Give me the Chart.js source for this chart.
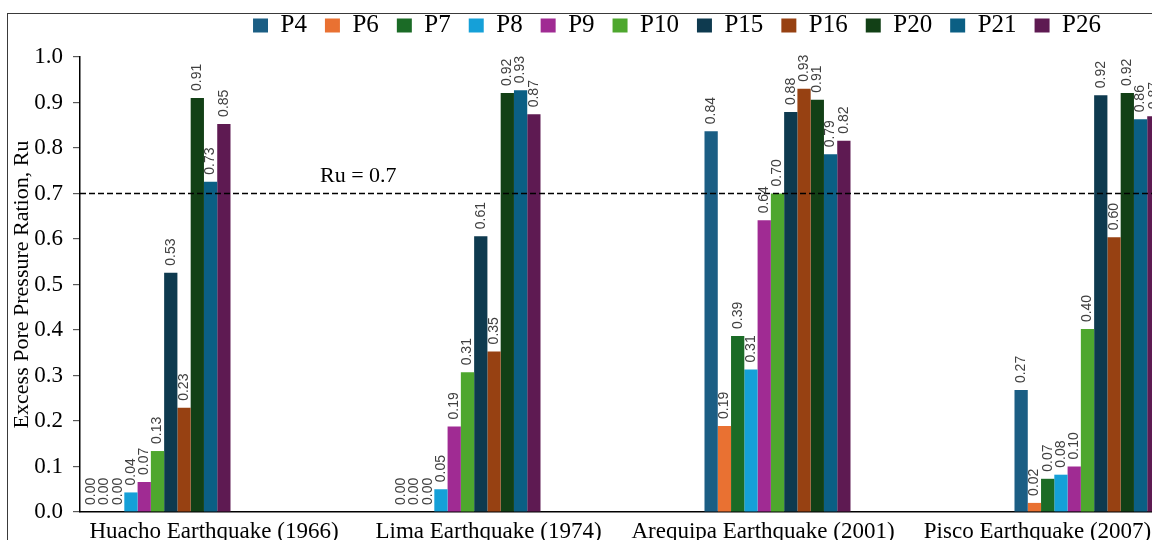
<!DOCTYPE html>
<html>
<head>
<meta charset="utf-8">
<script src="https://cdn.jsdelivr.net/npm/chart.js@4.4.1/dist/chart.umd.min.js"></script>
<style>
html,body{margin:0;padding:0;background:#fff;overflow:hidden;width:1152px;height:540px;}
#wrap{position:absolute;left:0;top:0;width:1354px;height:540px;}
#frame{position:absolute;left:7px;top:13px;width:1340px;height:600px;border:1.5px solid #3a3a3a;box-sizing:border-box;pointer-events:none;}
</style>
</head>
<body>
<div id="wrap"><canvas id="c" width="1354" height="540"></canvas></div>
<div id="frame"></div>
<script>
// ---- data ----
const categories = ['Huacho Earthquake (1966)', 'Lima Earthquake (1974)', 'Arequipa Earthquake (2001)', 'Pisco Earthquake (2007)'];
const seriesNames = ['P4', 'P6', 'P7', 'P8', 'P9', 'P10', 'P15', 'P16', 'P20', 'P21', 'P26'];
const P4  = [0.000, 0.000, 0.837, 0.268];
const P6  = [0.000, 0.000, 0.189, 0.020];
const P7  = [0.000, 0.000, 0.387, 0.073];
const P8  = [0.043, 0.050, 0.313, 0.082];
const P9  = [0.066, 0.188, 0.641, 0.100];
const P10 = [0.134, 0.307, 0.700, 0.402];
const P15 = [0.526, 0.606, 0.879, 0.916];
const P16 = [0.229, 0.353, 0.930, 0.604];
const P20 = [0.910, 0.921, 0.906, 0.921];
const P21 = [0.726, 0.927, 0.786, 0.863];
const P26 = [0.853, 0.874, 0.816, 0.870];
const yTicks = [0.0, 0.1, 0.2, 0.3, 0.4, 0.5, 0.6, 0.7, 0.8, 0.9, 1.0];
const threshold = 0.7;
const thresholdLabel = 'Ru = 0.7';
const yTitle = 'Excess Pore Pressure Ration, Ru';

// ---- styles ----
const colors = ['#1B5E84', '#E97132', '#1B6B26', '#15A0D8', '#A02B93', '#4EA72E', '#0E3A4F', '#974112', '#124016', '#0B5F84', '#5E1A52'];
const serif = 'Liberation Serif, Times New Roman, serif';

const seriesValues = [P4, P6, P7, P8, P9, P10, P15, P16, P20, P21, P26];
// each earthquake occupies the left half of a double-width slot
const expand = arr => arr.flatMap(v => [v, null]);
const slotLabels = categories.flatMap(c => [c, '']);

const datasets = seriesNames.map((n, i) => ({
  label: n,
  data: expand(seriesValues[i]),
  backgroundColor: colors[i],
  borderWidth: 0,
  categoryPercentage: 0.942,
  barPercentage: 1.0,
  xAxisID: 'x',
  yAxisID: 'y'
}));

const legendHeight = {
  id: 'legendHeight',
  beforeLayout(chart) {
    const lg = chart.legend;
    if (lg && !lg._patched) {
      const f = lg.fit;
      lg.fit = function () { f.call(this); this.height += 9; };
      lg._patched = true;
    }
  }
};

const valueLabels = {
  id: 'valueLabels',
  afterDatasetsDraw(chart) {
    const ctx = chart.ctx;
    ctx.save();
    ctx.font = '14px Liberation Sans, Arial, sans-serif';
    ctx.fillStyle = '#404040';
    ctx.textAlign = 'left';
    ctx.textBaseline = 'middle';
    chart.data.datasets.forEach((ds, di) => {
      const meta = chart.getDatasetMeta(di);
      meta.data.forEach((bar, j) => {
        const v = ds.data[j];
        if (v === null || v === undefined) return;
        ctx.save();
        ctx.translate(bar.x, bar.y - 7);
        ctx.rotate(-Math.PI / 2);
        ctx.fillText(v.toFixed(2), 0, 0);
        ctx.restore();
      });
    });
    ctx.restore();
  }
};

const thresholdLine = {
  id: 'thresholdLine',
  afterDatasetsDraw(chart) {
    const ctx = chart.ctx;
    const y = chart.scales.y.getPixelForValue(threshold);
    const a = chart.chartArea;
    ctx.save();
    ctx.strokeStyle = '#000';
    ctx.lineWidth = 1.5;
    ctx.setLineDash([6, 3]);
    ctx.beginPath();
    ctx.moveTo(a.left, y);
    ctx.lineTo(a.right, y);
    ctx.stroke();
    ctx.setLineDash([]);
    ctx.fillStyle = '#000';
    ctx.font = '22px ' + serif;
    ctx.textAlign = 'left';
    ctx.textBaseline = 'alphabetic';
    ctx.fillText(thresholdLabel, a.left + 240, y - 12);
    ctx.restore();
  }
};

new Chart(document.getElementById('c'), {
  type: 'bar',
  data: { labels: slotLabels, datasets },
  options: {
    responsive: false,
    animation: false,
    devicePixelRatio: 1,
    layout: { padding: { top: -5, left: 0, right: 0, bottom: 0 } },
    plugins: {
      tooltip: { enabled: false },
      legend: {
        position: 'top',
        align: 'center',
        labels: {
          boxWidth: 15,
          boxHeight: 14,
          padding: 18,
          color: '#000',
          font: { family: serif, size: 25 }
        }
      }
    },
    scales: {
      x: { type: 'category', display: false, offset: true, grid: { display: false } },
      x2: {
        type: 'linear',
        position: 'bottom',
        offset: false,
        bounds: 'data',
        min: -0.4882,
        max: 4.0291,
        afterBuildTicks: s => { s.ticks = categories.map((c, i) => ({ value: i })); },
        afterFit: s => { s.height = 28; },
        ticks: {
          autoSkip: false,
          maxRotation: 0,
          padding: 6,
          color: '#000',
          font: { family: serif, size: 23 },
          callback: v => categories[v]
        },
        grid: { display: false, drawTicks: false, offset: false },
        border: { display: true, color: '#000', width: 1.5 }
      },
      y: {
        type: 'linear',
        position: 'left',
        min: 0,
        max: 1,
        afterBuildTicks: s => { s.ticks = yTicks.map(v => ({ value: v })); },
        afterFit: s => { s.width = 80; },
        ticks: {
          padding: 10,
          color: '#000',
          font: { family: serif, size: 23 },
          callback: v => Number(v).toFixed(1)
        },
        grid: { display: true, drawOnChartArea: false, drawTicks: true, tickLength: 7, color: '#595959', lineWidth: 1.2 },
        border: { display: true, color: '#000', width: 1.5 },
        title: {
          display: true,
          text: yTitle,
          color: '#000',
          font: { family: serif, size: 22 },
          padding: { top: 9, bottom: 0 }
        }
      },
      yR: {
        type: 'linear',
        position: 'right',
        display: true,
        min: 0,
        max: 1,
        ticks: { display: false },
        grid: { display: false, drawTicks: false },
        border: { display: false },
        afterFit: s => { s.width = 34; }
      }
    }
  },
  plugins: [legendHeight, thresholdLine, valueLabels]
});
</script>
</body>
</html>
